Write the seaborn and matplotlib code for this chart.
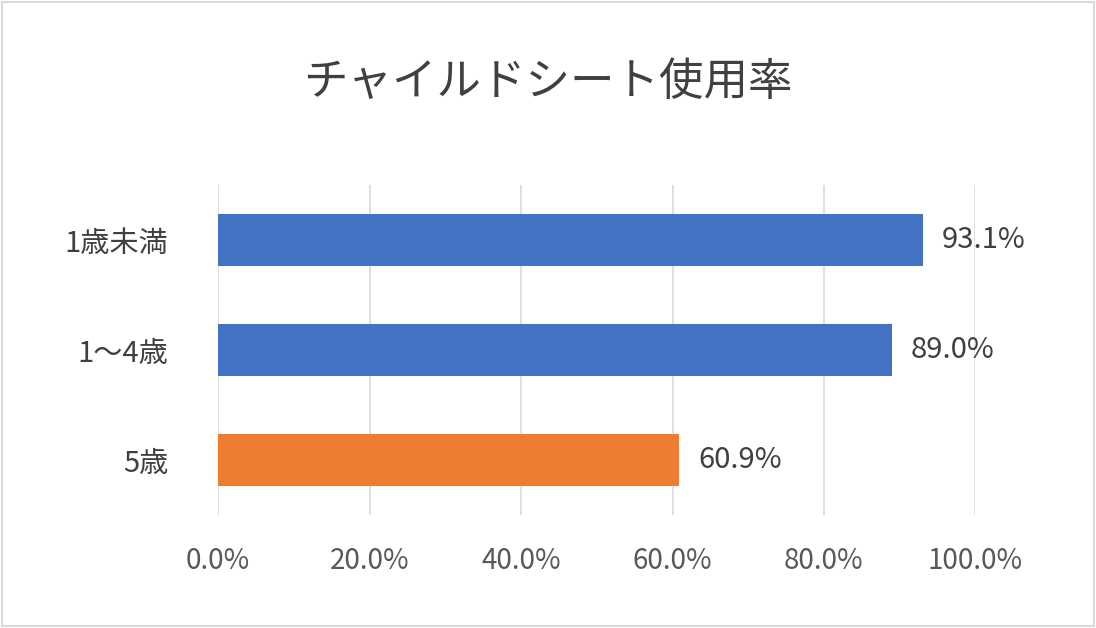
import matplotlib
matplotlib.use("Agg")
import matplotlib.pyplot as plt
import seaborn as sns
import pandas as pd

categories = ["1歳未満", "1～4歳", "5歳"]
values = [93.1, 89.0, 60.9]
colors = ["#4472C4", "#4472C4", "#ED7D31"]
ticks = [0, 20, 40, 60, 80, 100]

plt.rcParams["font.family"] = "Noto Sans CJK JP"
df = pd.DataFrame({"cat": categories, "val": values})

fig = plt.figure(figsize=(10.96, 6.28), dpi=100)
ax = fig.add_axes([0.199, 0.18, 0.691, 0.525])
sns.barplot(data=df, x="val", y="cat", hue="cat", palette=colors, saturation=1,
            legend=False, width=0.47, ax=ax, zorder=3)

for i, v in enumerate(values):
    ax.text(v + 2.5, i, f"{v:.1f}%", va="center", ha="left",
            fontsize=21, color="#404040")

ax.set_xlim(0, 100)
ax.set_xticks(ticks)
ax.set_xticklabels([f"{t:.1f}%" for t in ticks], fontsize=20, color="#595959")
ax.tick_params(axis="y", labelsize=21, labelcolor="#404040", length=0, pad=36)
ax.tick_params(axis="x", length=0, pad=22)
ax.grid(axis="x", color="#D9D9D9", linewidth=1.2, zorder=0)
ax.set_xlabel("")
ax.set_ylabel("")
for s in ax.spines.values():
    s.set_visible(False)

fig.text(0.5, 0.87, "チャイルドシート使用率", ha="center", va="center",
         fontsize=32, color="#404040")
fig.patches.append(plt.Rectangle((0.002, 0.003), 0.996, 0.994, transform=fig.transFigure,
                                 fill=False, edgecolor="#D9D9D9", linewidth=1.5))

plt.savefig("out.png", dpi=100)
plt.close(fig)
